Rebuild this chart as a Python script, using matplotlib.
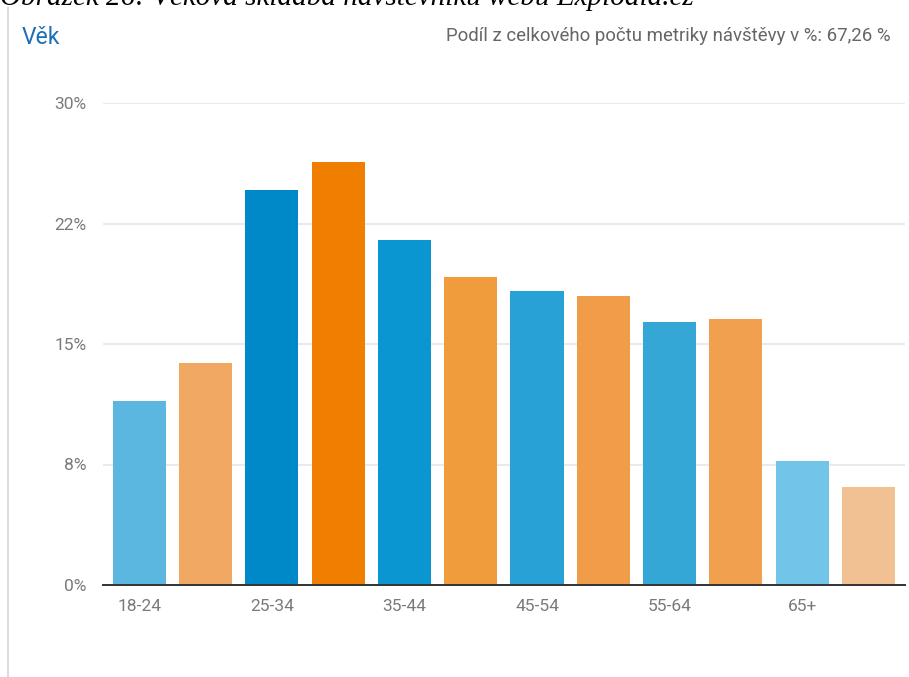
"""Age structure of website visitors (GA style bar chart)."""

import matplotlib.pyplot as plt
import numpy as np

plt.rcParams["font.family"] = ["Roboto", "DejaVu Sans"]

age_groups = ["18-24", "25-34", "35-44", "45-54", "55-64", "65+"]
share_blue = [11.45, 24.6, 21.5, 18.3, 16.4, 7.7]
share_orange = [13.8, 26.3, 19.2, 18.0, 16.55, 6.1]
colors_blue = ["#5BB7E0", "#0089C8", "#0A96D1", "#27A1D6", "#35A7D6", "#72C4E8"]
colors_orange = ["#F0A862", "#F07E00", "#F09B3C", "#F09C48", "#F0A04E", "#F2C193"]
ytick_values = [0, 7.5, 15, 22.5, 30]
ytick_labels = ["0%", "8%", "15%", "22%", "30%"]

fig = plt.figure(figsize=(9.09, 6.77), dpi=100)
ax = fig.add_axes([103 / 909, 92 / 677, 802 / 909, 482 / 677])

x = np.arange(len(age_groups)) * 2
ax.bar(x, share_blue, width=0.8, color=colors_blue, zorder=3)
ax.bar(x + 1, share_orange, width=0.8, color=colors_orange, zorder=3)

ax.set_xlim(-0.545, 11.55)
ax.set_ylim(0, 30)
ax.set_yticks(ytick_values)
ax.set_yticklabels(ytick_labels)
ax.set_xticks(x)
ax.set_xticklabels(age_groups)
ax.tick_params(axis="both", length=0, labelsize=12.5, labelcolor="#7a7a7a")
ax.tick_params(axis="y", pad=12)
ax.tick_params(axis="x", pad=10)
ax.grid(axis="y", color="#e6e6e6", linewidth=1.2, zorder=0)
for side in ("top", "right", "left"):
    ax.spines[side].set_visible(False)
ax.spines["bottom"].set_color("#333333")
ax.spines["bottom"].set_linewidth(1.4)
ax.spines["bottom"].set_zorder(4)

# panel header
fig.text(22 / 909, 1 - 44 / 677, "Věk", color="#1B6FB5", fontsize=16.5, va="baseline", ha="left")
fig.text(891 / 909, 1 - 41 / 677, "Podíl z celkového počtu metriky návštěvy v %: 67,26 %",
         color="#666666", fontsize=13.4, va="baseline", ha="right")

# left panel border
fig.add_artist(plt.Line2D([8 / 909, 8 / 909], [0, 1 - 8 / 677], color="#dddddd", linewidth=1.5))

# caption of the source document, cut off at the top edge
fig.text(0, 1 - 5 / 677, "Obrázek 26: Věková skladba návštěvníků webu Explodia.cz",
         family="Liberation Serif", style="italic", fontsize=21, color="black",
         va="baseline", ha="left")

fig.savefig("out.png", dpi=100)
